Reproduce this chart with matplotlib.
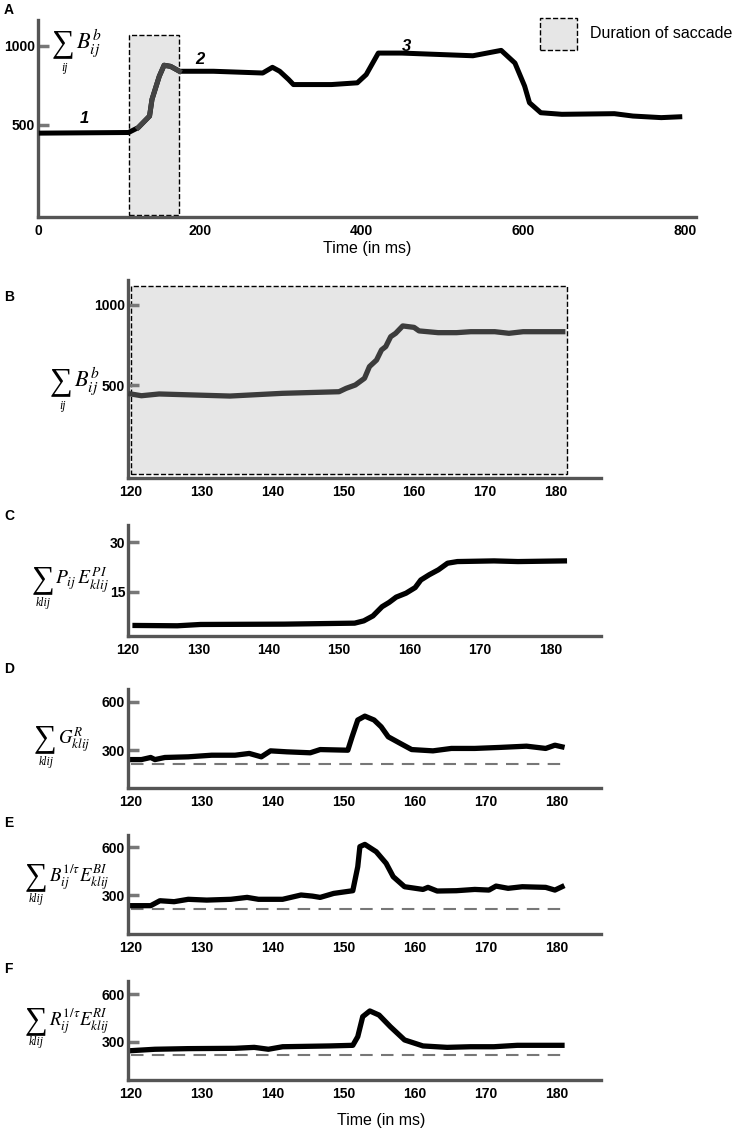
import matplotlib
matplotlib.use("Agg")
import matplotlib.pyplot as plt
from matplotlib.patches import Rectangle

plt.rcParams['font.family'] = ['Liberation Sans Narrow', 'Liberation Sans', 'DejaVu Sans']
plt.rcParams['mathtext.fontset'] = 'stix'

# ---- data ----
a_t = [1, 112, 124, 138, 141, 150, 156, 164, 175, 217, 278, 290, 299, 310, 316, 363,
       395, 406, 421, 450, 538, 573, 590, 602, 608, 622, 648, 713, 736, 771, 797]
a_v = [448, 452, 483, 556, 661, 807, 877, 870, 839, 839, 828, 864, 839, 787, 755, 755,
       766, 818, 954, 954, 937, 971, 891, 745, 640, 577, 567, 571, 556, 546, 552]
saccade_a = (113, 175)

b_t = [120, 121.5, 124, 134, 141.4, 149.4, 150.4, 151.7, 153, 153.7, 154.7, 155.4, 156,
       156.7, 157.4, 158.4, 160, 160.7, 163.4, 166, 168, 171.4, 173.4, 175.4, 181]
b_v = [444, 433, 444, 431, 448, 458, 479, 500, 542, 615, 656, 719, 740,
       802, 823, 869, 860, 838, 827, 827, 833, 833, 823, 833, 833]
saccade_b = (120, 181.6)

c_t = [121, 127, 130.3, 142.2, 152.2, 153.5, 154.8, 156.1, 157.1, 158.1, 159.5, 160.8,
       161.6, 162.8, 164.1, 165.4, 166.8, 172, 175.4, 182]
c_v = [4.8, 4.7, 5.1, 5.2, 5.5, 6.2, 7.7, 10.5, 11.8, 13.4, 14.6, 16.3,
       18.6, 20.2, 21.7, 23.7, 24.2, 24.4, 24.2, 24.4]

d_t = [120, 121.5, 122.8, 123.4, 124.8, 128.1, 129.4, 131.4, 134.7, 136.7, 138.4, 139.7,
       142, 145.3, 146.7, 150.6, 151.2, 152, 153, 154.3, 155.3, 156.3, 158, 159.6, 162.6,
       165.2, 168.5, 171.9, 175.8, 178.5, 179.8, 180.8]
d_v = [242, 242, 255, 242, 255, 259, 263, 269, 269, 280, 259, 296,
       290, 284, 304, 300, 383, 487, 511, 487, 445, 383, 342, 304, 296,
       311, 311, 317, 325, 311, 331, 321]

e_t = [120, 122.8, 124.1, 126.1, 128.1, 130.7, 134.1, 136.4, 138, 141.4, 144, 145.6,
       146.7, 148.6, 151.3, 152, 152.3, 153, 154.6, 156, 157, 158.6, 161.2, 161.9, 163.2,
       165.9, 168.5, 170.5, 171.5, 173.2, 175.2, 178.5, 179.8, 180.8]
e_v = [233, 233, 264, 258, 273, 268, 273, 285, 273, 273, 300, 293,
       285, 310, 327, 478, 604, 618, 572, 499, 415, 352, 335, 348, 325,
       327, 335, 331, 356, 342, 352, 348, 331, 352]

f_t = [120, 123.4, 128.1, 134.7, 137.4, 139.4, 141.4, 148, 151.3, 152, 152.7, 153.7,
       155, 156.6, 158.6, 161.2, 164.6, 167.9, 171.2, 174.5, 180.8]
f_v = [243, 252, 256, 258, 264, 252, 268, 273, 277, 332, 459, 495,
       469, 395, 311, 273, 264, 268, 268, 277, 277]

baseline = [217, 214, 216]  # dashed reference level in D, E, F

zoom_ticks = [120, 130, 140, 150, 160, 170, 180]

W, H = 737, 1130
fig = plt.figure(figsize=(W / 100, H / 100), dpi=100)
SERIF = ['Liberation Serif', 'DejaVu Serif']


def box(l, t, r, b):
    return [l / W, 1 - b / H, (r - l) / W, (b - t) / H]


def style(ax, xticks, yticks):
    for s in ['top', 'right']:
        ax.spines[s].set_visible(False)
    for s in ['left', 'bottom']:
        ax.spines[s].set_color('#555555')
        ax.spines[s].set_linewidth(2.4)
    ax.set_xticks(xticks)
    ax.set_yticks(yticks)
    ax.tick_params(axis='x', length=0, pad=5, labelsize=10)
    ax.tick_params(axis='y', direction='in', length=8, width=2.5, color='#777777',
                   pad=2, labelsize=10)
    for lab in ax.get_xticklabels() + ax.get_yticklabels():
        lab.set_fontweight('bold')


def sum_label(sx, sy, sub, subx, suby, body, bx, by, bsize=15):
    # sigma, its index set underneath, then the summand
    fig.text(sx / W, 1 - sy / H, '\u2211', fontsize=23, ha='left', va='center', family=SERIF)
    fig.text(subx / W, 1 - suby / H, sub, fontsize=8.5, ha='center', va='center',
             family=SERIF, style='italic')
    fig.text(bx / W, 1 - by / H, body, fontsize=bsize, ha='left', va='center')


# ---- A ----
axA = fig.add_axes(box(38, 20, 696, 217))
axA.add_patch(Rectangle((saccade_a[0], -72), saccade_a[1] - saccade_a[0], 1140,
                        fc='#e6e6e6', ec='black', ls='--', lw=1, zorder=1))
axA.plot(a_t, a_v, color='black', lw=3.6, zorder=3, solid_capstyle='butt')
ins = [(t, v) for t, v in zip(a_t, a_v) if saccade_a[0] <= t <= saccade_a[1]]
axA.plot([p[0] for p in ins], [p[1] for p in ins], color='#444444', lw=3.6, zorder=4)
axA.set_xlim(0, 814)
axA.set_ylim(-82, 1163)
style(axA, [0, 200, 400, 600, 800], [500, 1000])
axA.set_xlabel('Time (in ms)', fontsize=11.5, labelpad=2)
for txt, x, y in [('1', 57, 540), ('2', 200, 916), ('3', 456, 996)]:
    axA.text(x, y, txt, fontsize=12, fontweight='bold', style='italic', ha='center',
             va='center', family=['Liberation Sans', 'DejaVu Sans'])
sum_label(52, 44, 'ij', 65, 68, r'$B_{ij}^{b}$', 76, 43, bsize=16)

# legend
fig.patches.append(Rectangle((540 / W, 1 - 50 / H), 37 / W, 32 / H, transform=fig.transFigure,
                             fc='#e6e6e6', ec='black', ls='--', lw=1))
fig.text(590 / W, 1 - 34 / H, 'Duration of saccade', fontsize=11.5, va='center', ha='left')

# ---- B ----
axB = fig.add_axes(box(128, 280, 601, 478))
axB.add_patch(Rectangle((saccade_b[0], -56), saccade_b[1] - saccade_b[0], 1176,
                        fc='#e6e6e6', ec='black', ls='--', lw=1, zorder=1))
axB.plot(b_t, b_v, color='#3c3c3c', lw=3.8, zorder=3)
axB.set_xlim(119.6, 186.4)
axB.set_ylim(-81, 1156)
style(axB, zoom_ticks, [500, 1000])
sum_label(50, 382, 'ij', 63, 406, r'$B_{ij}^{b}$', 74, 381, bsize=16)

# ---- C ----
axC = fig.add_axes(box(128, 525, 601, 636))
axC.plot(c_t, c_v, color='black', lw=3.8)
axC.set_xlim(120.5, 187.2)
axC.set_ylim(1.6, 35.3)
style(axC, zoom_ticks, [15, 30])
sum_label(32, 580, 'klij', 43, 603, r'$P_{ij}\,E_{klij}^{PI}$', 55, 580, bsize=14)

# ---- D, E, F ----
rows = [
    (d_t, d_v, baseline[0], (689, 788), (66, 679),
     (34, 739, 46, 762, 58, 740), r'$G_{klij}^{R}$'),
    (e_t, e_v, baseline[1], (835, 934), (55, 677),
     (25, 877, 36, 899, 49, 877), r'$B_{ij}^{1/\tau}E_{klij}^{BI}$'),
    (f_t, f_v, baseline[2], (981, 1080), (57, 685),
     (25, 1021, 36, 1042, 49, 1021), r'$R_{ij}^{1/\tau}E_{klij}^{RI}$'),
]
for t, v, base, (top, bot), ylim, pos, body in rows:
    ax = fig.add_axes(box(128, top, 601, bot))
    ax.plot([120, 181.5], [base, base], color='#777777', lw=1.5, ls=(0, (6, 4)))
    ax.plot(t, v, color='black', lw=3.8)
    ax.set_xlim(119.6, 186.3)
    ax.set_ylim(*ylim)
    style(ax, zoom_ticks, [300, 600])
    sx, sy, ux, uy, bx, by = pos
    sum_label(sx, sy, 'klij', ux, uy, body, bx, by, bsize=13.5)

fig.text(381 / W, 1 - 1120 / H, 'Time (in ms)', fontsize=11.5, ha='center', va='center')

# panel letters
for letter, y in [('A', 10), ('B', 297), ('C', 516), ('D', 669), ('E', 823), ('F', 969)]:
    fig.text(4 / W, 1 - y / H, letter, fontsize=10, fontweight='bold', va='center',
             family=['Liberation Sans', 'DejaVu Sans'])

fig.savefig('out.png', dpi=100)
